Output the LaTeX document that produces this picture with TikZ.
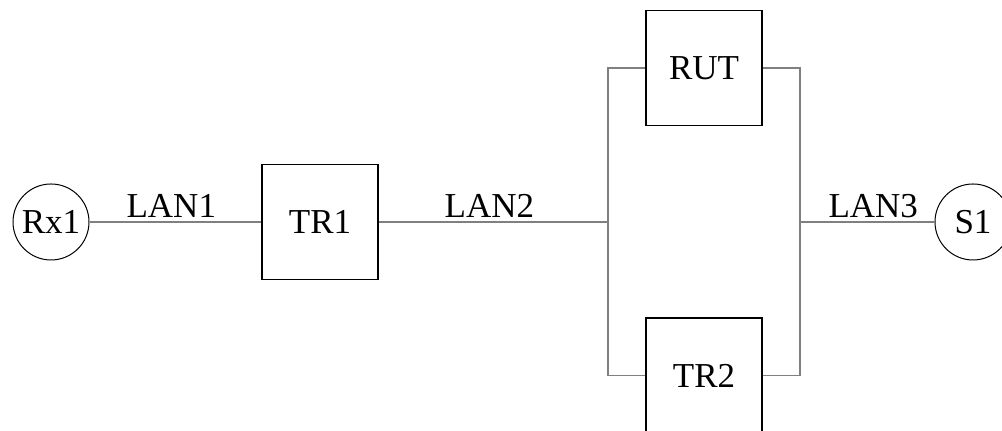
\documentclass[tikz,border=0pt]{standalone}
\usepackage{fontspec}
\setmainfont{Liberation Serif}
\usetikzlibrary{positioning}

\begin{document}
\begin{tikzpicture}[x=0.5pt,y=0.5pt,font=\fontsize{17.5}{21}\selectfont]
\tikzset{router/.style={draw=black,line width=0.9pt,minimum width=58pt,minimum height=57.5pt,inner sep=0pt},
         host/.style={draw=black,line width=0.5pt,circle,minimum size=38pt,inner sep=0pt},
         wire/.style={draw=black!50,line width=0.65pt}}
\useasboundingbox (0,0) rectangle (1002,431);
\node[host] (rx1) at (51,209) {Rx1};
\node[router] (tr1) at (320,209) {TR1};
\node[router] (rut) at (704,363) {RUT};
\node[router] (tr2) at (704,55.5) {TR2};
\node[host] (s1) at (973,209) {S1};
\coordinate (jl) at (608,209);
\coordinate (jr) at (800,209);
\draw[wire] (rx1) -- node[above=-1.5pt,xshift=-2pt] {LAN1} (tr1);
\draw[wire] (tr1) -- node[above=-1.5pt,xshift=-2pt] {LAN2} (jl);
\draw[wire] (jr) -- node[above=-1.5pt,xshift=3pt] {LAN3} (s1);
\draw[wire] (rut.west) -| (jl) |- (tr2.west);
\draw[wire] (rut.east) -| (jr) |- (tr2.east);
\end{tikzpicture}
\end{document}
